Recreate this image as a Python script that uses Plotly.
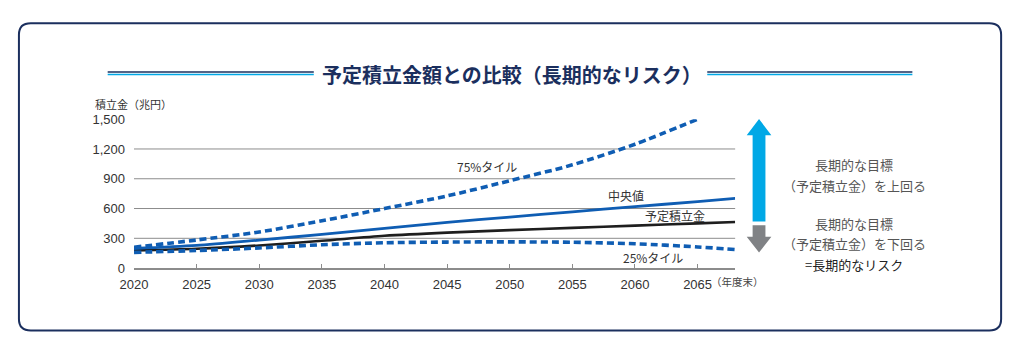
import plotly.graph_objects as go

# ---------------- data ----------------
years = [2020, 2025, 2030, 2035, 2040, 2045, 2050, 2055, 2060, 2065, 2068]
planned = [178, 195, 228, 275, 325, 357, 382, 405, 428, 450, 465]      # 予定積立金
median = [197, 228, 282, 340, 400, 460, 514, 567, 619, 670, 702]       # 中央値
p75_years = [2020, 2025, 2030, 2035, 2040, 2045, 2050, 2055, 2060, 2065]
p75 = [210, 283, 364, 476, 600, 727, 880, 1040, 1248, 1500]            # 75%タイル
p25 = [158, 177, 203, 235, 255, 262, 264, 260, 245, 213, 187]          # 25%タイル

x_ticks = [2020, 2025, 2030, 2035, 2040, 2045, 2050, 2055, 2060, 2065]
y_ticks = [0, 300, 600, 900, 1200, 1500]
y_tick_text = ["0", "300", "600", "900", "1,200", "1,500"]
grid_vals = [300, 600, 900, 1200]

W, H = 1010, 352
BLUE = "#0f5db3"
NAVY = "#1b2f5e"
CYAN = "#00a8e6"
JP = "Noto Sans CJK JP"


def px(x):
    return x / W


def py(y):
    return 1 - y / H


fig = go.Figure()

fig.add_trace(go.Scatter(x=years, y=planned, mode="lines",
                         line=dict(color="#1e1e1e", width=2.6, shape="spline", smoothing=0.8),
                         hoverinfo="skip"))
fig.add_trace(go.Scatter(x=years, y=median, mode="lines",
                         line=dict(color=BLUE, width=2.8, shape="spline", smoothing=0.8),
                         hoverinfo="skip"))
fig.add_trace(go.Scatter(x=p75_years, y=p75, mode="lines",
                         line=dict(color=BLUE, width=3.6, dash="7px,4px", shape="spline", smoothing=0.8),
                         hoverinfo="skip"))
fig.add_trace(go.Scatter(x=years, y=p25, mode="lines",
                         line=dict(color=BLUE, width=3.6, dash="7px,4px", shape="spline", smoothing=0.8),
                         hoverinfo="skip"))

shapes = []
# gridlines
for g in grid_vals:
    shapes.append(dict(type="line", xref="x domain", yref="y", x0=0, x1=1, y0=g, y1=g,
                       line=dict(color="#8c8c8c", width=1), layer="below"))

# rounded border
x0, x1, y0, y1, r = 5, 1001, 17, 338, 12
rx, ry = r / W, r / H
L, R, T, B = px(x0), px(x1), py(y0), py(y1)
border = (f"M {L+rx},{T} L {R-rx},{T} Q {R},{T} {R},{T-ry} "
          f"L {R},{B+ry} Q {R},{B} {R-rx},{B} "
          f"L {L+rx},{B} Q {L},{B} {L},{B+ry} "
          f"L {L},{T-ry} Q {L},{T} {L+rx},{T} Z")
shapes.append(dict(type="path", xref="paper", yref="paper", path=border,
                   line=dict(color=NAVY, width=2), fillcolor="rgba(0,0,0,0)"))

# title decoration lines
for (a, b) in [(95, 304), (703, 911)]:
    shapes.append(dict(type="line", xref="paper", yref="paper", x0=px(a), x1=px(b),
                       y0=py(67.8), y1=py(67.8), line=dict(color=NAVY, width=1.5)))
    shapes.append(dict(type="line", xref="paper", yref="paper", x0=px(a), x1=px(b),
                       y0=py(70.6), y1=py(70.6), line=dict(color=CYAN, width=1.5)))

# arrows
cx = 755.5
up = (f"M {px(cx)},{py(117)} L {px(768)},{py(134)} L {px(762)},{py(134)} "
      f"L {px(762)},{py(224)} L {px(749)},{py(224)} L {px(749)},{py(134)} "
      f"L {px(743)},{py(134)} Z")
shapes.append(dict(type="path", xref="paper", yref="paper", path=up,
                   fillcolor=CYAN, line=dict(width=0)))
down = (f"M {px(749)},{py(228)} L {px(762)},{py(228)} L {px(762)},{py(240)} "
        f"L {px(768)},{py(240)} L {px(cx)},{py(256.5)} L {px(743)},{py(240)} "
        f"L {px(749)},{py(240)} Z")
shapes.append(dict(type="path", xref="paper", yref="paper", path=down,
                   fillcolor="#808285", line=dict(width=0)))

annotations = [
    dict(text="<b>予定積立金額との比較（長期的なリスク）</b>", xref="paper", yref="paper",
         x=px(505), y=py(71), xanchor="center", yanchor="middle", showarrow=False,
         font=dict(family=JP, size=20, color=NAVY)),
    dict(text="積立金（兆円）", xref="paper", yref="paper", x=px(80), y=py(101),
         xanchor="left", yanchor="middle", showarrow=False,
         font=dict(family=JP, size=11, color="#333333")),
    dict(text="（年度末）", xref="paper", yref="paper", x=px(705), y=py(287),
         xanchor="left", yanchor="middle", showarrow=False,
         font=dict(family=JP, size=10.5, color="#444444")),
    dict(text="75%タイル", xref="x", yref="y", x=2048.2, y=1023, showarrow=False,
         xanchor="center", yanchor="middle", font=dict(family=JP, size=12, color="#333333")),
    dict(text="中央値", xref="x", yref="y", x=2059.3, y=727, showarrow=False,
         xanchor="center", yanchor="middle", font=dict(family=JP, size=12, color="#333333")),
    dict(text="予定積立金", xref="x", yref="y", x=2063.2, y=534, showarrow=False,
         xanchor="center", yanchor="middle", font=dict(family=JP, size=12, color="#333333")),
    dict(text="25%タイル", xref="x", yref="y", x=2061.4, y=106, showarrow=False,
         xanchor="center", yanchor="middle", font=dict(family=JP, size=12, color="#333333")),
]
right_lines = [
    ("長期的な目標", 164, "#555555"),
    ("（予定積立金）を上回る", 186, "#555555"),
    ("長期的な目標", 226, "#555555"),
    ("（予定積立金）を下回る", 247, "#555555"),
    ("=長期的なリスク", 268.5, "#222222"),
]
for t, yy, c in right_lines:
    annotations.append(dict(text=t, xref="paper", yref="paper", x=px(852), y=py(yy),
                            xanchor="center", yanchor="middle", showarrow=False,
                            font=dict(family=JP, size=13, color=c)))

fig.update_layout(
    width=W, height=H,
    margin=dict(l=0, r=0, t=0, b=0),
    paper_bgcolor="white", plot_bgcolor="white",
    showlegend=False,
    shapes=shapes,
    annotations=annotations,
    xaxis=dict(domain=[px(121.7), px(731.3)], range=[2020, 2068],
               tickvals=x_ticks, ticktext=[str(v) for v in x_ticks],
               showgrid=False, zeroline=False,
               showline=True, linecolor="#8c8c8c", linewidth=1.5,
               ticks="inside", ticklen=4, tickcolor="#8c8c8c", tickwidth=1,
               tickfont=dict(family="Liberation Sans, " + JP, size=13, color="#333333"),
               ticklabelstandoff=4, fixedrange=True),
    yaxis=dict(domain=[py(272.7), py(117.2)], range=[0, 1500],
               tickvals=y_ticks, ticktext=y_tick_text,
               showgrid=False, zeroline=False, showline=False, ticks="",
               tickfont=dict(family="Liberation Sans, " + JP, size=13, color="#333333"),
               ticklabelstandoff=8, fixedrange=True),
)

fig.write_html("out.html", config={"displayModeBar": False},
               post_script="document.body.style.margin='0';document.body.style.padding='0';")
